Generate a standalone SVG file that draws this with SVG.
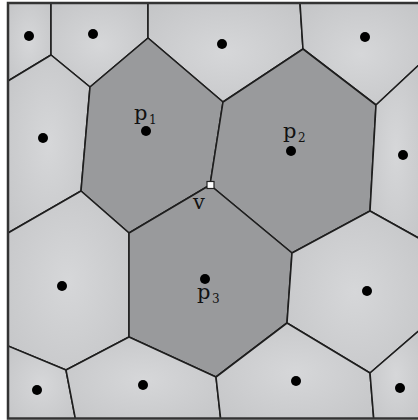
<svg xmlns="http://www.w3.org/2000/svg" width="418" height="420" viewBox="0 0 418 420">
  <defs>
    <radialGradient id="lg" cx="0.5" cy="0.5" r="0.7">
      <stop offset="0" stop-color="#d6d7d9"/>
      <stop offset="1" stop-color="#c4c5c7"/>
    </radialGradient>
    <clipPath id="frame">
      <rect x="8" y="3" width="414" height="415.5"/>
    </clipPath>
  </defs>
  <style>
    .light { fill: url(#lg); stroke: #1e1e1e; stroke-width: 1.6; stroke-linejoin: round; }
    .dark { fill: #999a9c; stroke: #1e1e1e; stroke-width: 1.6; stroke-linejoin: round; }
    .site { fill: #000; }
    .lbl { font-family: "DejaVu Serif", "Liberation Serif", serif; font-size: 21px; fill: #111; }
    .sub { font-family: "DejaVu Serif", "Liberation Serif", serif; font-size: 12px; fill: #111; }
  </style>
  <rect width="418" height="420" fill="#ffffff"/>
  <g clip-path="url(#frame)">
    <g id="cell-a">
      <polygon class="light" points="8,3 51,3 51,55 8,81"/>
      <circle class="site" cx="29" cy="36" r="5"/>
    </g>
    <g id="cell-b">
      <polygon class="light" points="51,3 148,3 148,38 90,87 51,55"/>
      <circle class="site" cx="93" cy="34" r="5"/>
    </g>
    <g id="cell-c">
      <polygon class="light" points="148,3 300,3 303,49 223,102 148,38"/>
      <circle class="site" cx="222" cy="44" r="5"/>
    </g>
    <g id="cell-d">
      <polygon class="light" points="300,3 422,3 422,62 376,105 303,49"/>
      <circle class="site" cx="365" cy="37" r="5"/>
    </g>
    <g id="cell-e">
      <polygon class="light" points="8,81 51,55 90,87 81,191 8,233"/>
      <circle class="site" cx="43" cy="138" r="5"/>
    </g>
    <g id="cell-p1">
      <polygon class="dark" points="90,87 148,38 223,102 210,185 129,233 81,191"/>
      <circle class="site" cx="146" cy="131" r="5"/>
      <text class="lbl" x="134" y="120">p</text>
      <text class="sub" x="149" y="124">1</text>
    </g>
    <g id="cell-p2">
      <polygon class="dark" points="223,102 303,49 376,105 370,211 292,253 210,185"/>
      <circle class="site" cx="291" cy="151" r="5"/>
      <text class="lbl" x="283" y="138">p</text>
      <text class="sub" x="298" y="142">2</text>
    </g>
    <g id="cell-f">
      <polygon class="light" points="422,62 376,105 370,211 422,240"/>
      <circle class="site" cx="403" cy="155" r="5"/>
    </g>
    <g id="cell-g">
      <polygon class="light" points="8,233 81,191 129,233 129,337 66,370 8,346"/>
      <circle class="site" cx="62" cy="286" r="5"/>
    </g>
    <g id="cell-p3">
      <polygon class="dark" points="129,233 210,185 292,253 287,323 216,377 129,337"/>
      <circle class="site" cx="205" cy="279" r="5"/>
      <text class="lbl" x="197" y="299">p</text>
      <text class="sub" x="212" y="303">3</text>
    </g>
    <g id="cell-h">
      <polygon class="light" points="370,211 422,240 422,328 370,373 287,323 292,253"/>
      <circle class="site" cx="367" cy="291" r="5"/>
    </g>
    <g id="cell-i">
      <polygon class="light" points="8,346 66,370 76,422 8,422"/>
      <circle class="site" cx="37" cy="390" r="5"/>
    </g>
    <g id="cell-j">
      <polygon class="light" points="66,370 129,337 216,377 221,422 76,422"/>
      <circle class="site" cx="143" cy="385" r="5"/>
    </g>
    <g id="cell-k">
      <polygon class="light" points="216,377 287,323 370,373 374,422 221,422"/>
      <circle class="site" cx="296" cy="381" r="5"/>
    </g>
    <g id="cell-l">
      <polygon class="light" points="370,373 422,328 422,422 374,422"/>
      <circle class="site" cx="400" cy="388" r="5"/>
    </g>
  </g>
  <g id="frame-border">
    <rect x="8" y="3" width="414" height="415.5" fill="none" stroke="#333" stroke-width="2.5"/>
  </g>
  <g id="vertex-v">
    <rect x="207" y="181.5" width="7" height="7" fill="#fff" stroke="#222" stroke-width="1.2"/>
    <text class="lbl" x="193" y="209">v</text>
  </g>
</svg>
